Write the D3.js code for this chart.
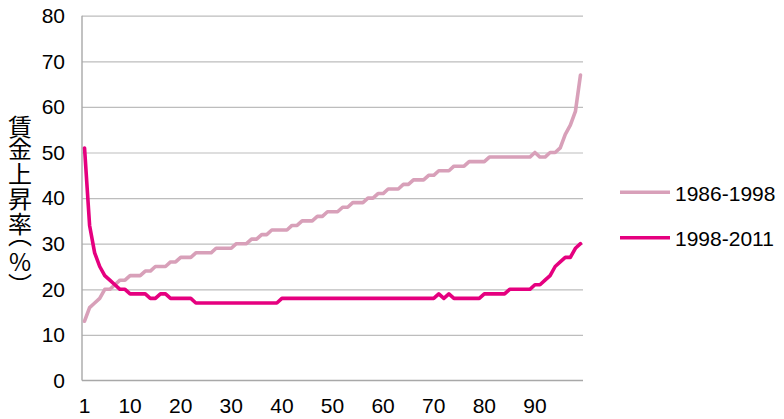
<!DOCTYPE html>
<html>
<head>
<meta charset="utf-8">
<script src="https://cdn.jsdelivr.net/npm/d3@7/dist/d3.min.js"></script>
<style>
  html, body { margin: 0; padding: 0; background: #fff; }
  svg { display: block; }
</style>
</head>
<body>
<svg id="chart" width="784" height="419"></svg>
<script>
// ---- data ----
const categories = d3.range(1, 100); // 1..99
const series1Name = "1986-1998";
const series1 = [13,16,17,18,20,20,21,22,22,23, 23,23,24,24,25,25,25,26,26,27,
                 27,27,28,28,28,28,29,29,29,29, 30,30,30,31,31,32,32,33,33,33,
                 33,34,34,35,35,35,36,36,37,37, 37,38,38,39,39,39,40,40,41,41,
                 42,42,42,43,43,44,44,44,45,45, 46,46,46,47,47,47,48,48,48,48,
                 49,49,49,49,49,49,49,49,49,50, 49,49,50,50,51,54,56,59,67];
const series2Name = "1998-2011";
const series2 = [51,34,28,25,23,22,21,20,20,19, 19,19,19,18,18,19,19,18,18,18,
                 18,18,17,17,17,17,17,17,17,17, 17,17,17,17,17,17,17,17,17,18,
                 18,18,18,18,18,18,18,18,18,18, 18,18,18,18,18,18,18,18,18,18,
                 18,18,18,18,18,18,18,18,18,18, 19,18,19,18,18,18,18,18,18,19,
                 19,19,19,19,20,20,20,20,20,21, 21,22,23,25,26,27,27,29,30];
const yTicks = [0,10,20,30,40,50,60,70,80];
const xTicks = [1,10,20,30,40,50,60,70,80,90];
const yTitle = "賃金上昇率（%）";

// ---- layout ----
const X0 = 82, X1 = 583, Y0 = 380.5, Y1 = 15.7;
const svg = d3.select("#chart");
const x = d3.scaleBand().domain(categories).range([X0, X1]).padding(0);
const y = d3.scaleLinear().domain([0, 80]).range([Y0, Y1]);
const cx = d => x(d) + x.bandwidth() / 2;
const font = "'Liberation Sans', Arial, sans-serif";

// gridlines
const grid = svg.append("g").attr("transform", `translate(${X0},0)`)
  .call(d3.axisLeft(y).tickValues(yTicks.filter(v => v > 0)).tickSize(-(X1 - X0)).tickFormat(""));
grid.select(".domain").remove();
grid.selectAll("line").attr("stroke", "#BDBDBD").attr("stroke-width", 1.2);

// axis lines
svg.append("line").attr("x1", X0).attr("x2", X0).attr("y1", Y1).attr("y2", Y0)
  .attr("stroke", "#A8A8A8").attr("stroke-width", 1.4);
svg.append("line").attr("x1", X0).attr("x2", X1).attr("y1", Y0).attr("y2", Y0)
  .attr("stroke", "#A8A8A8").attr("stroke-width", 1.4);

// y labels
const ya = svg.append("g").attr("transform", `translate(${X0},0)`)
  .call(d3.axisLeft(y).tickValues(yTicks).tickSize(0).tickPadding(17));
ya.select(".domain").remove();
ya.selectAll("text").attr("font-family", font).attr("font-size", 21).attr("fill", "#000");

// x labels
const xa = svg.append("g").attr("transform", `translate(0,${Y0})`)
  .call(d3.axisBottom(x).tickValues(xTicks).tickSize(0).tickPadding(17.5));
xa.select(".domain").remove();
xa.selectAll("text").attr("font-family", font).attr("font-size", 21).attr("fill", "#000");

// lines
const line = d3.line().x((d, i) => cx(categories[i])).y(d => y(d));
const c1 = "#D8A0B9", c2 = "#E5007F";
svg.append("path").datum(series1).attr("d", line).attr("fill", "none")
  .attr("stroke", c1).attr("stroke-width", 3.6).attr("stroke-linejoin", "round").attr("stroke-linecap", "round");
svg.append("path").datum(series2).attr("d", line).attr("fill", "none")
  .attr("stroke", c2).attr("stroke-width", 3.6).attr("stroke-linejoin", "round").attr("stroke-linecap", "round");

// legend
const legend = [{name: series1Name, color: c1, y: 192.3}, {name: series2Name, color: c2, y: 237.7}];
const lg = svg.append("g");
legend.forEach(l => {
  lg.append("line").attr("x1", 620).attr("x2", 670).attr("y1", l.y).attr("y2", l.y)
    .attr("stroke", l.color).attr("stroke-width", 3.6);
  lg.append("text").attr("x", 675).attr("y", l.y + 1).attr("dy", "0.35em")
    .attr("font-family", font).attr("font-size", 21).attr("fill", "#000").text(l.name);
});

// y title (vertical writing, glyph cells positioned individually)
svg.append("text")
  .attr("x", 20)
  .attr("y", "114.5 137 162 187 212 222.5 250 273")
  .style("writing-mode", "vertical-rl")
  .style("text-orientation", "upright")
  .attr("font-family", "'Noto Sans CJK JP', sans-serif")
  .attr("font-size", 24)
  .attr("fill", "#000")
  .text(yTitle);
</script>
</body>
</html>
